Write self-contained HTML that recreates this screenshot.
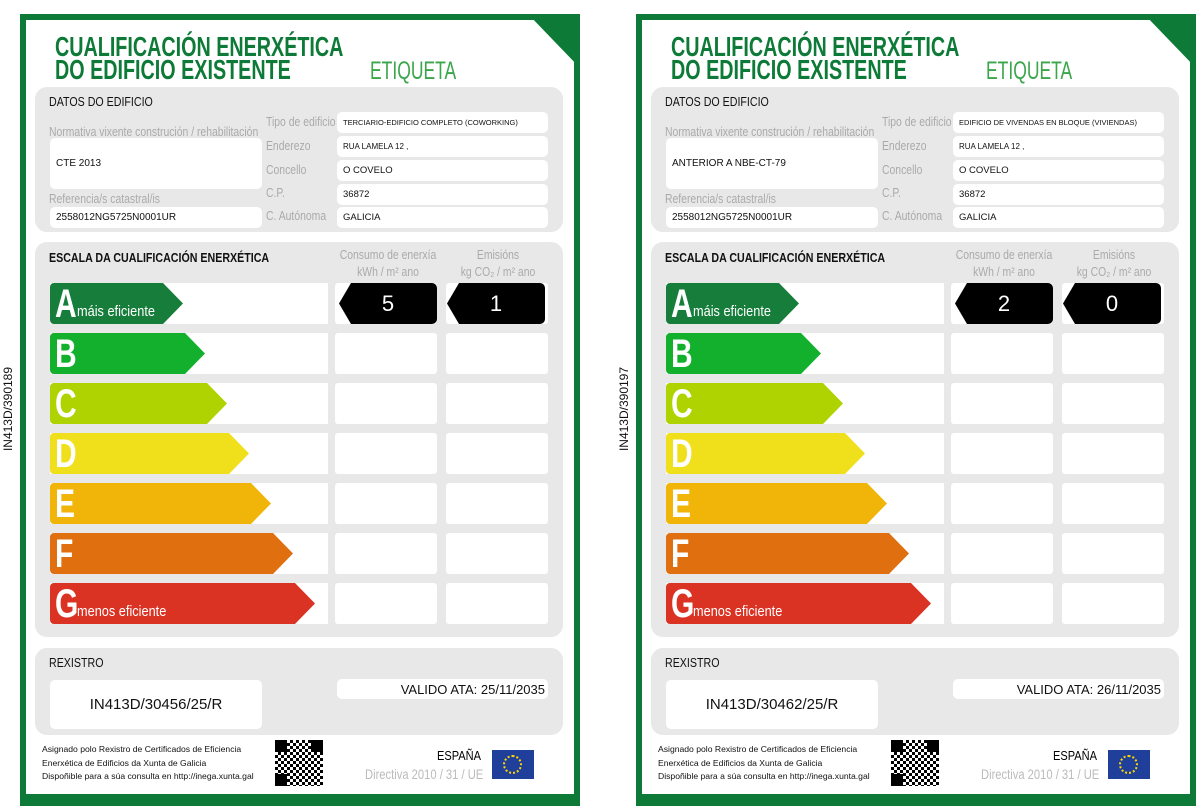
<!DOCTYPE html>
<html><head><meta charset="utf-8"><style>
*{margin:0;padding:0;box-sizing:border-box}
body{width:1203px;height:812px;background:#fff;position:relative;overflow:hidden;font-family:"Liberation Sans",sans-serif}
.card{position:absolute;top:14px;width:560px;height:792px;background:#0d7a37}
.in{position:absolute;left:6px;top:6px;width:548px;height:774px;background:#fff}
.ct{position:absolute;left:0;top:0;width:560px;height:792px}
.corner{position:absolute;right:0;top:0;width:0;height:0;border-top:54px solid #0d7a37;border-left:52px solid transparent}
.a{position:absolute}
.t1{left:35px;font-weight:bold;color:#0d7a37;font-size:28px;line-height:28px;transform:scaleX(.705);transform-origin:0 0;white-space:nowrap}
.eti{left:350px;top:43px;font-size:25px;color:#3aa64a;transform:scaleX(.7);transform-origin:0 0}
.panel{position:absolute;left:15px;width:528px;background:#e8e8e8;border-radius:12px}
.box{position:absolute;background:#fff;border-radius:5px;font-size:9px;color:#111;padding-left:6px;display:flex;align-items:center;white-space:nowrap}
.lbl{position:absolute;color:#aaa;font-size:13px;transform:scaleX(.8);transform-origin:0 0;white-space:nowrap}
.hd{position:absolute;font-size:13px;color:#111;transform:scaleX(.82);transform-origin:0 0;white-space:nowrap}
.row{position:absolute;left:50px;width:278px;height:41px;background:#fff}
.c1,.c2{position:absolute;width:102px;height:41px;background:#fff;border-radius:3px}
.arr{position:absolute;left:50px;height:41px;border-radius:4px;clip-path:polygon(0 0,calc(100% - 20px) 0,100% 50%,calc(100% - 20px) 100%,0 100%);color:#fff}
.arr b{position:absolute;left:5px;top:0px;font-size:40px;line-height:42px;transform:scaleX(.75);transform-origin:0 0}
.arr span{position:absolute;left:27px;top:20px;font-size:15px;transform:scaleX(.85);transform-origin:0 0;white-space:nowrap}
.blk{position:absolute;height:41px;width:98px;background:#000;color:#fff;font-size:22px;display:flex;align-items:center;justify-content:center;clip-path:polygon(12px 0,100% 0,100% 100%,12px 100%,0 50%);border-radius:0 5px 5px 0}
.foot{position:absolute;left:22px;font-size:8.6px;line-height:13.5px;color:#111}
.qr{position:absolute;left:255px;top:726px;width:48px;height:46px;background:
 linear-gradient(#000,#000) 0 0/12px 12px no-repeat,linear-gradient(#000,#000) 36px 0/12px 12px no-repeat,linear-gradient(#000,#000) 0 34px/12px 12px no-repeat,
 repeating-conic-gradient(#000 0 25%,#fff 0 50%) 0 0/6px 6px}
.eu{position:absolute;left:472px;top:736px;width:42px;height:29px;background:#1f3f9a}
.eu i{position:absolute;left:11px;top:5px;width:19px;height:19px;border:2px dotted #ffd700;border-radius:50%}
.vt{position:absolute;left:-37px;top:402px;transform:rotate(-90deg);font-size:12px;width:90px;text-align:center;color:#111}
</style></head><body>
<div class="vt">IN413D/390189</div>
<div class="vt" style="left:579px">IN413D/390197</div>

<div class="card" style="left:20px">
<div class="in"></div>
<div class="ct">
<div class="a t1" style="top:19px">CUALIFICACIÓN ENERXÉTICA</div>
<div class="a t1" style="top:42px">DO EDIFICIO EXISTENTE</div>
<div class="a eti">ETIQUETA</div>
<div class="corner"></div>

<div class="panel" style="top:73px;height:145px">
<div class="hd" style="left:14px;top:7px">DATOS DO EDIFICIO</div>
<div class="lbl" style="left:14px;top:37px">Normativa vixente construción / rehabilitación</div>
<div class="box" style="left:15px;top:51px;width:212px;height:51px;font-size:10px">CTE 2013</div>
<div class="lbl" style="left:14px;top:104px">Referencia/s catastral/is</div>
<div class="box" style="left:15px;top:120px;width:212px;height:21px;font-size:10px">2558012NG5725N0001UR</div>
<div class="lbl" style="left:231px;top:27px">Tipo de edificio</div>
<div class="lbl" style="left:231px;top:51px">Enderezo</div>
<div class="lbl" style="left:231px;top:75px">Concello</div>
<div class="lbl" style="left:231px;top:98px">C.P.</div>
<div class="lbl" style="left:231px;top:121px">C. Autónoma</div>
<div class="box" style="left:302px;top:25px;width:211px;height:21px;font-size:7.5px">TERCIARIO-EDIFICIO COMPLETO (COWORKING)</div>
<div class="box" style="left:302px;top:49px;width:211px;height:21px;font-size:8px">RUA LAMELA 12 ,</div>
<div class="box" style="left:302px;top:73px;width:211px;height:21px;font-size:9.5px">O COVELO</div>
<div class="box" style="left:302px;top:97px;width:211px;height:21px;font-size:9.5px">36872</div>
<div class="box" style="left:302px;top:120px;width:211px;height:21px;font-size:9.5px">GALICIA</div>
</div>

<div class="panel" style="top:228px;height:395px">
<div class="hd" style="left:14px;top:8px;font-weight:bold">ESCALA DA CUALIFICACIÓN ENERXÉTICA</div>
<div class="lbl" style="left:303px;top:4px;line-height:17px;text-align:center;width:125px">Consumo de enerxía<br>kWh / m² ano</div>
<div class="lbl" style="left:413px;top:4px;line-height:17px;text-align:center;width:125px">Emisións<br>kg CO₂ / m² ano</div>
</div>
<div style="position:absolute;left:-20px;top:-14px">
<div class="row" style="top:283px"></div><div class="c1" style="top:283px;left:335px"></div><div class="c2" style="top:283px;left:446px"></div>
<div class="row" style="top:333px"></div><div class="c1" style="top:333px;left:335px"></div><div class="c2" style="top:333px;left:446px"></div>
<div class="row" style="top:383px"></div><div class="c1" style="top:383px;left:335px"></div><div class="c2" style="top:383px;left:446px"></div>
<div class="row" style="top:433px"></div><div class="c1" style="top:433px;left:335px"></div><div class="c2" style="top:433px;left:446px"></div>
<div class="row" style="top:483px"></div><div class="c1" style="top:483px;left:335px"></div><div class="c2" style="top:483px;left:446px"></div>
<div class="row" style="top:533px"></div><div class="c1" style="top:533px;left:335px"></div><div class="c2" style="top:533px;left:446px"></div>
<div class="row" style="top:583px"></div><div class="c1" style="top:583px;left:335px"></div><div class="c2" style="top:583px;left:446px"></div>
<div class="arr" style="top:283px;width:133px;background:#167d3a"><b>A</b><span>máis eficiente</span></div>
<div class="arr" style="top:333px;width:155px;background:#13b02e"><b>B</b></div>
<div class="arr" style="top:383px;width:177px;background:#afd300"><b>C</b></div>
<div class="arr" style="top:433px;width:199px;background:#f0df1b"><b>D</b></div>
<div class="arr" style="top:483px;width:221px;background:#f1b50a"><b>E</b></div>
<div class="arr" style="top:533px;width:243px;background:#e0700f"><b>F</b></div>
<div class="arr" style="top:583px;width:265px;background:#db3323"><b>G</b><span>menos eficiente</span></div>
<div class="blk" style="left:339px;top:283px">5</div>
<div class="blk" style="left:447px;top:283px">1</div>
</div>

<div class="panel" style="top:634px;height:87px">
<div class="hd" style="left:14px;top:7px">REXISTRO</div>
<div class="box" style="left:15px;top:32px;width:212px;height:49px;justify-content:center;padding:0;font-size:15px">IN413D/30456/25/R</div>
<div class="box" style="left:302px;top:31px;width:211px;height:20px;justify-content:flex-end;padding-right:3px;font-size:13px">VALIDO ATA: 25/11/2035</div>
</div>

<div class="foot" style="top:729px">Asignado polo Rexistro de Certificados de Eficiencia<br>Enerxética de Edificios da Xunta de Galicia<br>Dispoñible para a súa consulta en http://inega.xunta.gal</div>
<div class="qr"></div>
<div class="a" style="left:417px;top:734px;font-size:13px;transform:scaleX(.85);transform-origin:0 0">ESPAÑA</div>
<div class="a" style="left:345px;top:752px;font-size:14px;color:#bbb;transform:scaleX(.8);transform-origin:0 0;white-space:nowrap">Directiva 2010 / 31 / UE</div>
<div class="eu"><i></i></div>
</div></div>

<div class="card" style="left:636px">
<div class="in"></div>
<div class="ct">
<div class="a t1" style="top:19px">CUALIFICACIÓN ENERXÉTICA</div>
<div class="a t1" style="top:42px">DO EDIFICIO EXISTENTE</div>
<div class="a eti">ETIQUETA</div>
<div class="corner"></div>

<div class="panel" style="top:73px;height:145px">
<div class="hd" style="left:14px;top:7px">DATOS DO EDIFICIO</div>
<div class="lbl" style="left:14px;top:37px">Normativa vixente construción / rehabilitación</div>
<div class="box" style="left:15px;top:51px;width:212px;height:51px;font-size:10px">ANTERIOR A NBE-CT-79</div>
<div class="lbl" style="left:14px;top:104px">Referencia/s catastral/is</div>
<div class="box" style="left:15px;top:120px;width:212px;height:21px;font-size:10px">2558012NG5725N0001UR</div>
<div class="lbl" style="left:231px;top:27px">Tipo de edificio</div>
<div class="lbl" style="left:231px;top:51px">Enderezo</div>
<div class="lbl" style="left:231px;top:75px">Concello</div>
<div class="lbl" style="left:231px;top:98px">C.P.</div>
<div class="lbl" style="left:231px;top:121px">C. Autónoma</div>
<div class="box" style="left:302px;top:25px;width:211px;height:21px;font-size:7.5px">EDIFICIO DE VIVENDAS EN BLOQUE (VIVIENDAS)</div>
<div class="box" style="left:302px;top:49px;width:211px;height:21px;font-size:8px">RUA LAMELA 12 ,</div>
<div class="box" style="left:302px;top:73px;width:211px;height:21px;font-size:9.5px">O COVELO</div>
<div class="box" style="left:302px;top:97px;width:211px;height:21px;font-size:9.5px">36872</div>
<div class="box" style="left:302px;top:120px;width:211px;height:21px;font-size:9.5px">GALICIA</div>
</div>

<div class="panel" style="top:228px;height:395px">
<div class="hd" style="left:14px;top:8px;font-weight:bold">ESCALA DA CUALIFICACIÓN ENERXÉTICA</div>
<div class="lbl" style="left:303px;top:4px;line-height:17px;text-align:center;width:125px">Consumo de enerxía<br>kWh / m² ano</div>
<div class="lbl" style="left:413px;top:4px;line-height:17px;text-align:center;width:125px">Emisións<br>kg CO₂ / m² ano</div>
</div>
<div style="position:absolute;left:-20px;top:-14px">
<div class="row" style="top:283px"></div><div class="c1" style="top:283px;left:335px"></div><div class="c2" style="top:283px;left:446px"></div>
<div class="row" style="top:333px"></div><div class="c1" style="top:333px;left:335px"></div><div class="c2" style="top:333px;left:446px"></div>
<div class="row" style="top:383px"></div><div class="c1" style="top:383px;left:335px"></div><div class="c2" style="top:383px;left:446px"></div>
<div class="row" style="top:433px"></div><div class="c1" style="top:433px;left:335px"></div><div class="c2" style="top:433px;left:446px"></div>
<div class="row" style="top:483px"></div><div class="c1" style="top:483px;left:335px"></div><div class="c2" style="top:483px;left:446px"></div>
<div class="row" style="top:533px"></div><div class="c1" style="top:533px;left:335px"></div><div class="c2" style="top:533px;left:446px"></div>
<div class="row" style="top:583px"></div><div class="c1" style="top:583px;left:335px"></div><div class="c2" style="top:583px;left:446px"></div>
<div class="arr" style="top:283px;width:133px;background:#167d3a"><b>A</b><span>máis eficiente</span></div>
<div class="arr" style="top:333px;width:155px;background:#13b02e"><b>B</b></div>
<div class="arr" style="top:383px;width:177px;background:#afd300"><b>C</b></div>
<div class="arr" style="top:433px;width:199px;background:#f0df1b"><b>D</b></div>
<div class="arr" style="top:483px;width:221px;background:#f1b50a"><b>E</b></div>
<div class="arr" style="top:533px;width:243px;background:#e0700f"><b>F</b></div>
<div class="arr" style="top:583px;width:265px;background:#db3323"><b>G</b><span>menos eficiente</span></div>
<div class="blk" style="left:339px;top:283px">2</div>
<div class="blk" style="left:447px;top:283px">0</div>
</div>

<div class="panel" style="top:634px;height:87px">
<div class="hd" style="left:14px;top:7px">REXISTRO</div>
<div class="box" style="left:15px;top:32px;width:212px;height:49px;justify-content:center;padding:0;font-size:15px">IN413D/30462/25/R</div>
<div class="box" style="left:302px;top:31px;width:211px;height:20px;justify-content:flex-end;padding-right:3px;font-size:13px">VALIDO ATA: 26/11/2035</div>
</div>

<div class="foot" style="top:729px">Asignado polo Rexistro de Certificados de Eficiencia<br>Enerxética de Edificios da Xunta de Galicia<br>Dispoñible para a súa consulta en http://inega.xunta.gal</div>
<div class="qr"></div>
<div class="a" style="left:417px;top:734px;font-size:13px;transform:scaleX(.85);transform-origin:0 0">ESPAÑA</div>
<div class="a" style="left:345px;top:752px;font-size:14px;color:#bbb;transform:scaleX(.8);transform-origin:0 0;white-space:nowrap">Directiva 2010 / 31 / UE</div>
<div class="eu"><i></i></div>
</div></div>
</body></html>
